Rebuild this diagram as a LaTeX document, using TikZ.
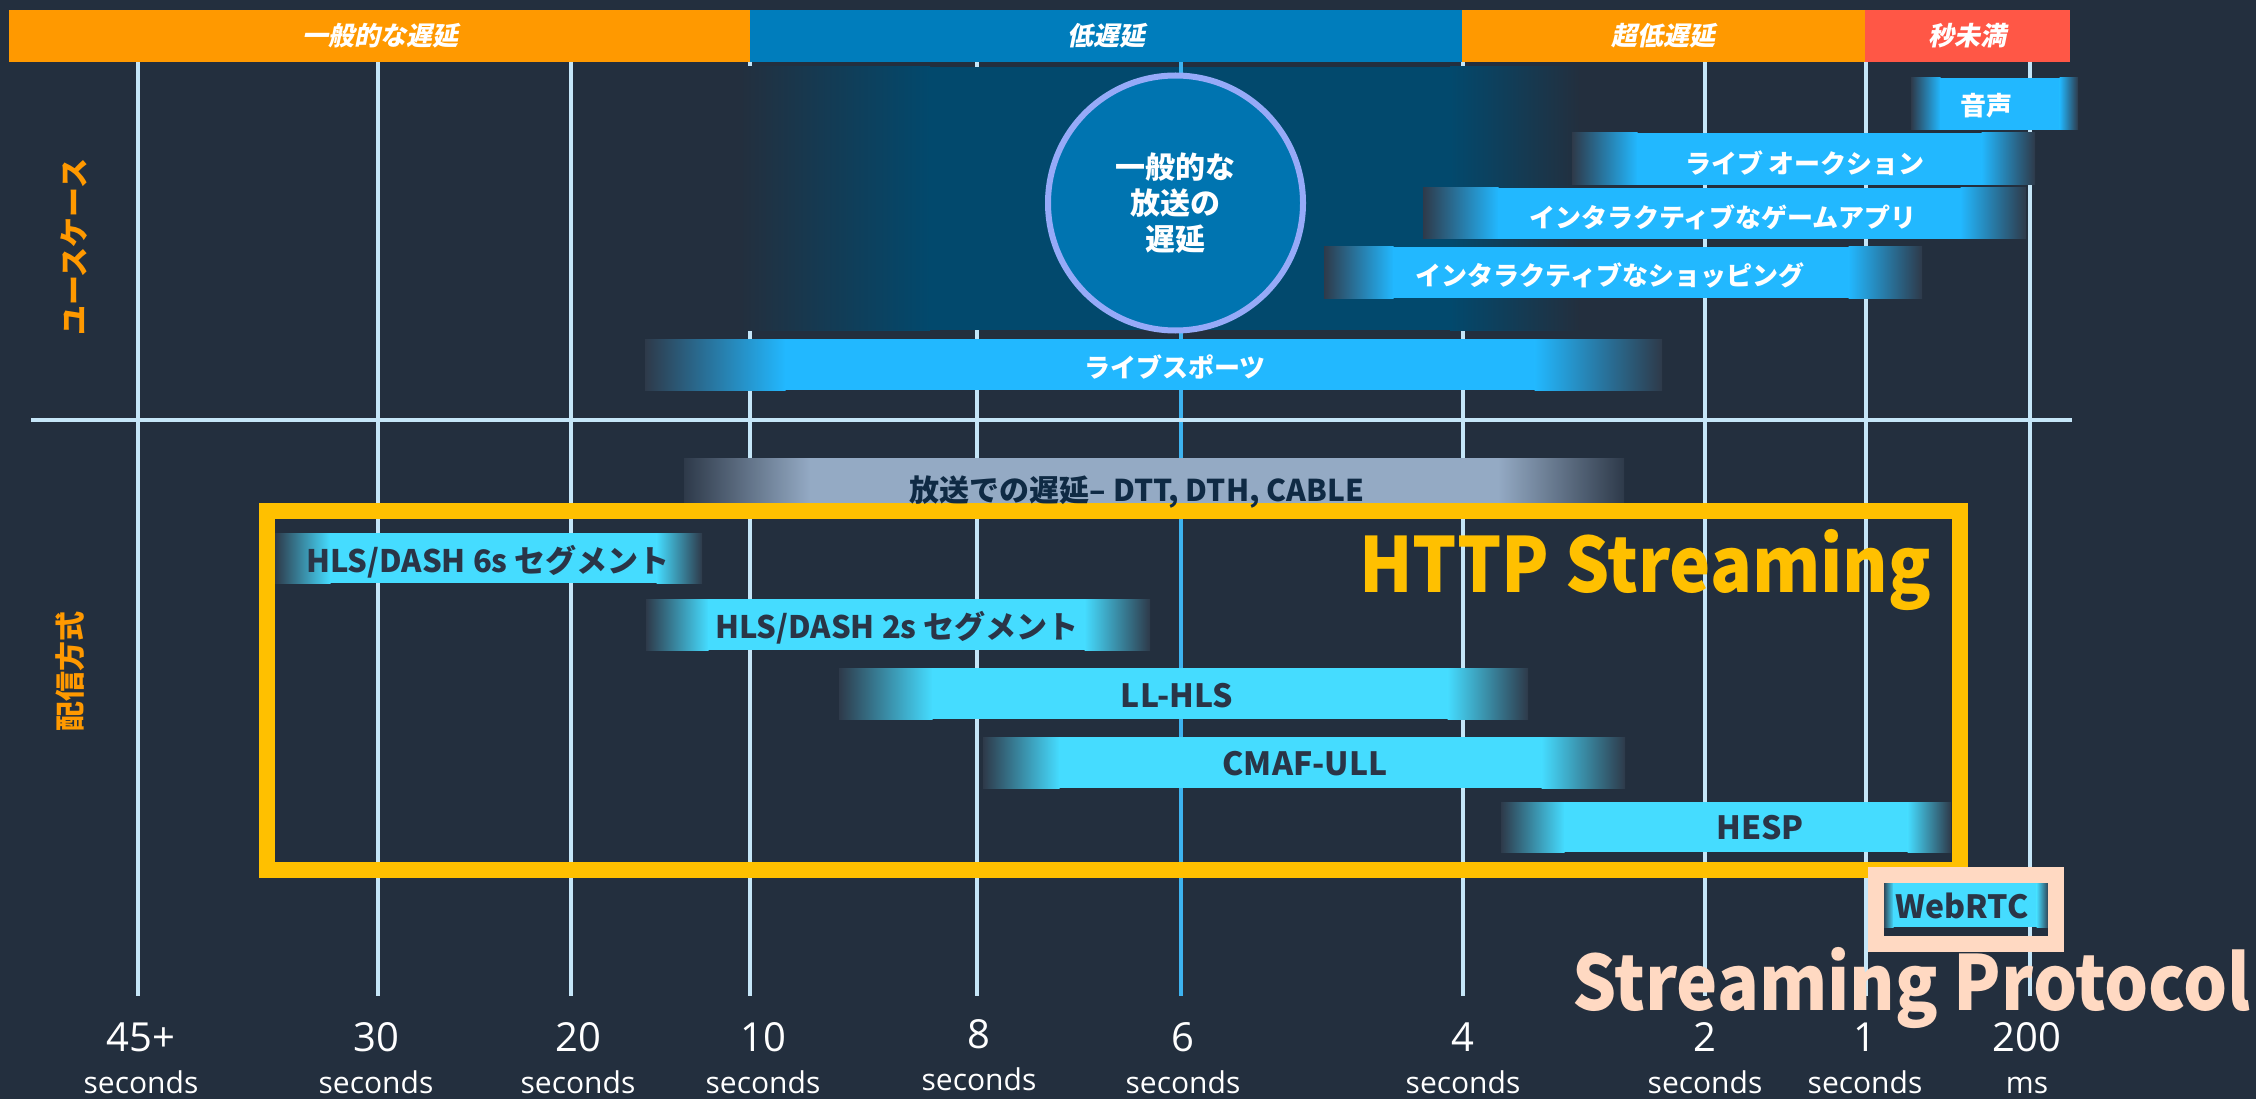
\documentclass[tikz,border=0pt]{standalone}
\usepackage{graphicx}
\usepackage{fontspec}
\setmainfont{Noto Sans CJK JP}
\newfontfamily\jpslant[FakeSlant=0.2]{Noto Sans CJK JP}
\newfontfamily\numfont{Open Sans}
\definecolor{bg}{HTML}{232F3E}
\definecolor{gridc}{HTML}{C5E6F8}
\definecolor{sixc}{HTML}{3DB3F0}
\definecolor{orangec}{HTML}{FF9900}
\definecolor{topblue}{HTML}{007DBC}
\definecolor{redc}{HTML}{FF5746}
\definecolor{panelc}{HTML}{02496D}
\definecolor{circfill}{HTML}{0074B0}
\definecolor{circline}{HTML}{96AAF8}
\definecolor{usebar}{HTML}{22B8FF}
\definecolor{castbar}{HTML}{94AAC4}
\definecolor{cyanbar}{HTML}{45DCFF}
\definecolor{yellowc}{HTML}{FFC000}
\definecolor{peachc}{HTML}{FFD9C2}
\definecolor{darktext}{HTML}{2A3547}
\definecolor{casttext}{HTML}{0F2A44}
\definecolor{fadeA}{HTML}{2E3A4A}
\definecolor{fadeB}{HTML}{56687C}
\newcommand\gradbar[7]{%
  \shade[left color=fadeA, middle color=#7!35!fadeB, right color=#7] (#1,#5) rectangle ({#2+0.5},#6);
  \fill[#7] (#2,#5) rectangle (#3,#6);
  \shade[left color=#7, middle color=#7!35!fadeB, right color=fadeA] ({#3-0.5},#5) rectangle (#4,#6);
}
\begin{document}
\begin{tikzpicture}[x=1pt,y=-1pt,
  gridline/.style={draw=gridc, line width=4pt},
  toplbl/.style={inner sep=0pt, text=white, font={\jpslant\fontsize{26}{30}\selectfont\bfseries}},
  uselbl/.style={inner sep=0pt, text=white, font={\fontsize{26}{30}\selectfont\bfseries}},
  barlbl/.style={inner sep=0pt, text=darktext, font={\fontsize{31}{36}\selectfont\bfseries}},
  latlbl/.style={inner sep=0pt, text=darktext, font={\fontsize{32}{36}\selectfont\bfseries}},
  biglbl/.style={inner sep=0pt, anchor=base west, font={\fontsize{76}{90}\selectfont\bfseries}},
  sidelbl/.style={inner sep=0pt, rotate=90, text=orangec, font={\fontsize{30}{32}\selectfont\bfseries}},
  numlbl/.style={inner sep=0pt, anchor=base, text=white, font={\numfont\fontsize{40}{48}\selectfont}},
  unitlbl/.style={inner sep=0pt, anchor=base, text=white, font={\numfont\fontsize{30}{36}\selectfont}}
]
\useasboundingbox (0,0) rectangle (2256,1099);
\fill[bg] (0,0) rectangle (2256,1099);

% grid lines
\foreach \x in {138,378,571,750,977,1463,1705,1866,2030}
  \draw[gridline] (\x,62) -- (\x,996);

% dark panel behind broadcast latency circle
\shade[left color=bg, right color=panelc] (740,67) rectangle (930,330);
\fill[panelc] (929,67) rectangle (1451,330);
\shade[left color=panelc, right color=bg] (1450,67) rectangle (1580,330);

% 6 second line
\draw[draw=sixc, line width=4pt] (1181,62) -- (1181,996);

% circle
\node[circle, draw=circline, line width=6pt, fill=circfill, minimum size=255pt, inner sep=0pt,
      text=white, align=center, font={\fontsize{30}{36}\selectfont\bfseries}] (circ) at (1175.5,203)
  {一般的な\\放送の\\遅延};

% horizontal divider
\draw[gridline] (31,420) -- (2072,420);

% use-case bars
\gradbar{1911}{1940}{2060}{2078}{78}{130}{usebar}
\gradbar{1572}{1637}{1982}{2035}{133}{185}{usebar}
\gradbar{1423}{1498}{1961}{2026}{188}{239}{usebar}
\gradbar{1324}{1393}{1849}{1922}{247}{298}{usebar}
\gradbar{645}{785}{1535}{1662}{339}{390}{usebar}

% delivery bars
\gradbar{684}{810}{1498}{1624}{458}{508}{castbar}
\gradbar{275}{330}{657}{702}{533}{583}{cyanbar}
\gradbar{646}{708}{1085}{1150}{599}{650}{cyanbar}
\gradbar{839}{932}{1448}{1528}{668}{719}{cyanbar}
\gradbar{983}{1059}{1542}{1625}{737}{788}{cyanbar}
\gradbar{1501}{1564}{1908}{1951}{802}{852}{cyanbar}
\gradbar{1883}{1893}{2037}{2049}{883}{927}{cyanbar}

% frames
\draw[draw=yellowc, line width=16pt] (266.5,511) rectangle (1959.5,869.5);
\draw[draw=peachc, line width=16pt] (1875.5,875) rectangle (2056,944);

% top category bar
\fill[orangec] (9,10) rectangle (750,62);
\fill[topblue] (750,10) rectangle (1462,62);
\fill[orangec] (1462,10) rectangle (1865,62);
\fill[redc] (1865,10) rectangle (2070,62);
\node[toplbl] (c1) at (380,36) {一般的な遅延};
\node[toplbl] (c2) at (1106,36) {低遅延};
\node[toplbl] (c3) at (1663,36) {超低遅延};
\node[toplbl] (c4) at (1967,36) {秒未満};

% side labels
\node[sidelbl] (usecase) at (74,247) {ユースケース};
\node[sidelbl] (delivery) at (70,671) {配信方式};

% use-case labels
\node[uselbl] (u1) at (1986,106) {音声};
\node[uselbl] (u2) at (1805,163) {ライブ オークション};
\node[uselbl] (u3) at (1723,217) {インタラクティブなゲームアプリ};
\node[uselbl] (u4) at (1610,275) {インタラクティブなショッピング};
\node[uselbl] (u5) at (1175,367) {ライブスポーツ};

% delivery labels
\node[inner sep=0pt, text=casttext, font={\fontsize{30}{34}\selectfont\bfseries}] (d0) at (1137,492) {放送での遅延– DTT, DTH, CABLE};
\node[barlbl] (d1) at (488,562) {HLS/DASH 6s セグメント};
\node[barlbl] (d2) at (897,628) {HLS/DASH 2s セグメント};
\node[latlbl] (d3) at (1177,696) {LL-HLS};
\node[latlbl] (d4) at (1305,764) {CMAF-ULL};
\node[latlbl] (d5) at (1760,828) {HESP};
\node[latlbl] (d6) at (1962,906) {WebRTC};

% big titles
\node[biglbl, text=yellowc] (http) at (1359,592) {\scalebox{0.913}[1]{HTTP Streaming}};
\node[biglbl, text=peachc] (proto) at (1572,1010) {\scalebox{0.913}[1]{Streaming Protocol}};

% axis labels
\foreach \x/\n/\u/\dy [count=\i] in {141/45+/seconds/0, 376/30/seconds/0, 578/20/seconds/0,
    763/10/seconds/0, 979/8/seconds/-3, 1183/6/seconds/0, 1463/4/seconds/0,
    1705/2/seconds/0, 1865/1/seconds/0, 2027/200/ms/0} {
  \node[numlbl] (num\i) at (\x,1051+\dy) {\n};
  \node[unitlbl] (unit\i) at (\x,1093+\dy) {\u};
}
\end{tikzpicture}
\end{document}
